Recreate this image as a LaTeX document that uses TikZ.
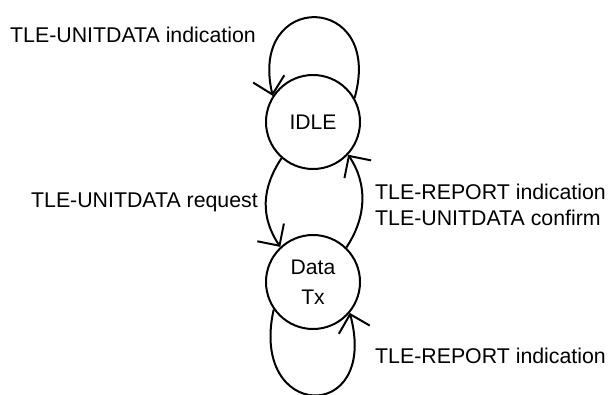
\documentclass[tikz,border=0pt]{standalone}
\usepackage{fontspec}
\setmainfont{Liberation Sans}
\usetikzlibrary{arrows.meta}

\begin{document}
\begin{tikzpicture}[
  x=1bp, y=1bp,
  state/.style={draw,circle,line width=2bp,minimum size=94bp,inner sep=0pt,align=center,font=\fontsize{21.2}{30}\selectfont},
  lbl/.style={inner sep=0pt,align=left,font=\fontsize{21.4}{26}\selectfont},
  trans/.style={line width=2bp,-{Straight Barb[length=16bp,width=32bp]}}
]
\useasboundingbox (0,0) rectangle (609,394);
\node[state] (idle) at (313,272) {IDLE};
\node[state] (datatx) at (313,112) {Data\\Tx};
% self loops
\draw[trans] (idle.30) .. controls +(30,106) and +(-25,106) .. (idle.147);
\draw[trans] (datatx.-145) .. controls +(-25,-112) and +(30,-112) .. (datatx.-40);
% between states
\draw[trans] (idle.-131) .. controls +(-20,-30) and +(-20,30) .. (datatx.133);
\draw[trans] (datatx.46) .. controls +(20,30) and +(20,-30) .. (idle.-43);
% labels
\node[lbl,anchor=base west] (lunind) at (10,352) {TLE-UNITDATA indication};
\node[lbl,anchor=base east] (lunreq) at (258,187) {TLE-UNITDATA request};
\node[lbl,anchor=base west] (lrepconf) at (375,169) {TLE-REPORT indication\\TLE-UNITDATA confirm};
\node[lbl,anchor=base west] (lrep) at (375,31) {TLE-REPORT indication};
\end{tikzpicture}
\end{document}
